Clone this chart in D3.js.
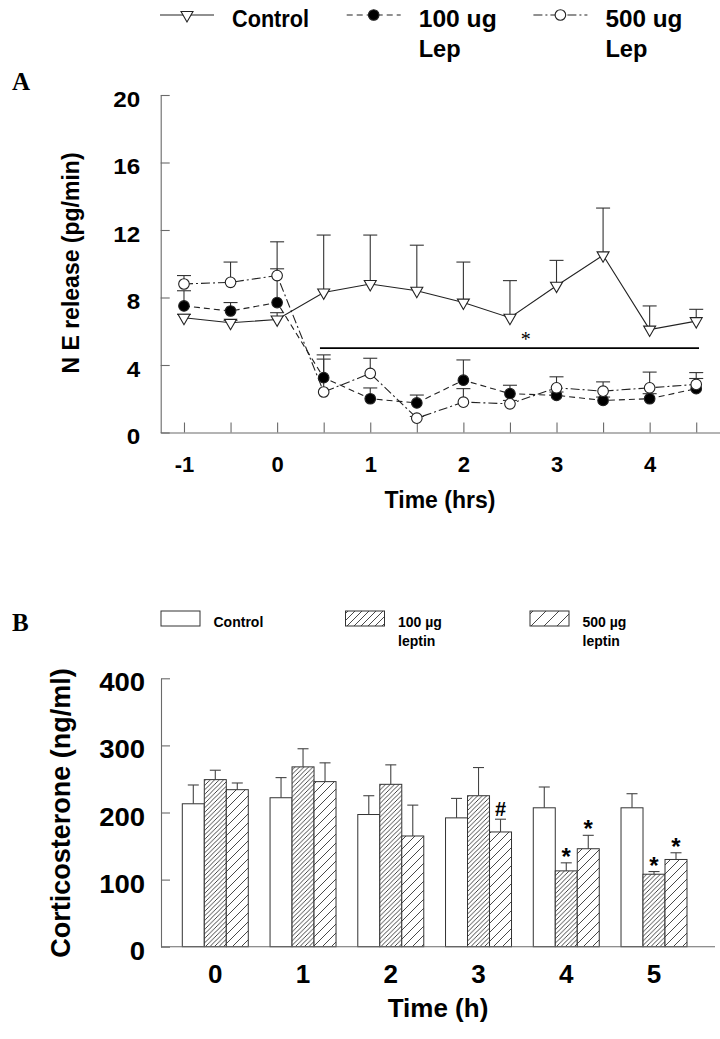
<!DOCTYPE html>
<html><head><meta charset="utf-8">
<script src="https://cdn.jsdelivr.net/npm/d3@7"></script>
<style>
html,body{margin:0;padding:0;background:#fff;}
svg{display:block;}
text{font-family:"Liberation Sans",Arial,sans-serif;font-weight:bold;fill:#000;}
</style></head>
<body>
<svg id="chart" width="720" height="1039"></svg>
<script>
// ---------- Panel A data ----------
const timesA = [-1, -0.5, 0, 0.5, 1, 1.5, 2, 2.5, 3, 3.5, 4, 4.5];
const controlA = [6.8, 6.5, 6.7, 8.3, 8.8, 8.4, 7.7, 6.8, 8.7, 10.5, 6.1, 6.6];
const controlASem = [0.2, 0.15, 0.4, 3.4, 2.9, 2.7, 2.4, 2.2, 1.5, 2.8, 1.4, 0.7];
const lep100A = [7.5, 7.2, 7.7, 3.25, 2.0, 1.75, 3.1, 2.3, 2.2, 1.9, 2.0, 2.6];
const lep100ASem = [0.9, 0.5, 3.6, 1.1, 0.64, 0.47, 1.2, 0.5, 0.2, 0.2, 0.3, 0.6];
const lep500A = [8.8, 8.9, 9.3, 2.4, 3.5, 0.85, 1.8, 1.7, 2.65, 2.45, 2.65, 2.85];
const lep500ASem = [0.5, 1.2, 0.4, 2.2, 0.9, 0.1, 0.8, 0.2, 0.65, 0.55, 0.93, 0.7];
const yTicksA = [0, 4, 8, 12, 16, 20];
const legendA = ["Control", "100 ug|Lep", "500 ug|Lep"];
const sigLineA = [0.46, 4.53, 5.0];   // x start, x end, y level
const sigStarA = [2.67, "*"];

// ---------- Panel B data ----------
const groupsB = ["0", "1", "2", "3", "4", "5"];
const controlB = [213, 222, 197, 192, 207, 207];
const controlBSem = [28, 30, 28, 29, 31, 21];
const lep100B = [249, 268, 242, 225, 113, 108];
const lep100BSem = [14, 27, 29, 42, 12, 4];
const lep500B = [234, 246, 165, 171, 146, 130];
const lep500BSem = [10, 28, 46, 19, 20, 10];
const yTicksB = [0, 100, 200, 300, 400];
const legendB = ["Control", "100 µg|leptin", "500 µg|leptin"];
const marksB = [
  {g: "3", s: 2, t: "#"},
  {g: "4", s: 1, t: "*"}, {g: "4", s: 2, t: "*"},
  {g: "5", s: 1, t: "*"}, {g: "5", s: 2, t: "*"}
];

const svg = d3.select("#chart");
const axisCol = "#6a6a6a";
const inkCol = "#222";
const sansFam = '"Liberation Sans",Arial,sans-serif';
const serifFam = '"Liberation Serif","Times New Roman",serif';
const yStretch = 1.1;

function styleAxis(a, size) {
  a.attr("font-family", null).attr("font-size", null);
  a.selectAll("path,line").attr("stroke", axisCol).attr("stroke-width", 1.1);
  a.selectAll("text").style("font-family", sansFam).style("font-weight", "bold")
    .style("font-size", size + "px").style("fill", "#000");
}

// =============== PANEL A ===============
const xA = d3.scaleLinear().domain([-1.25, 4.75]).range([160.7, 719.5]);
const yA = d3.scaleLinear().domain([0, 20]).range([432.5, 95]);

const gA = svg.append("g");
// axes
const yAxisA = d3.axisLeft(yA).tickValues(yTicksA).tickSizeInner(-9).tickSizeOuter(0).tickPadding(20.5 / yStretch);
const yaxA = gA.append("g").attr("transform", `translate(${xA.range()[0]},0)`).call(yAxisA);
styleAxis(yaxA, 22);
yaxA.selectAll("text").attr("dy", "0.5em").attr("transform", `scale(${yStretch},1)`);
const xAxisA = d3.axisBottom(xA).tickValues(timesA).tickSizeInner(-10).tickSizeOuter(0).tickPadding(24)
  .tickFormat(d => Number.isInteger(d) ? String(d) : "");
const xaxA = gA.append("g").attr("transform", `translate(0,${yA(0)})`).call(xAxisA);
styleAxis(xaxA, 22);

// titles
gA.append("text").attr("transform", "translate(78.5,263) rotate(-90)").attr("text-anchor", "middle")
  .attr("font-size", 23).text("N E release (pg/min)");
gA.append("text").attr("x", 440).attr("y", 508).attr("text-anchor", "middle")
  .attr("font-size", 23).text("Time (hrs)");
gA.append("text").attr("x", 12).attr("y", 90).attr("font-size", 25)
  .style("font-family", serifFam).text("A");

const seriesA = [
  {name: "control", vals: controlA, sem: controlASem, dash: null, marker: "tri"},
  {name: "l100", vals: lep100A, sem: lep100ASem, dash: "6,4", marker: "fill"},
  {name: "l500", vals: lep500A, sem: lep500ASem, dash: "9,3,2,3", marker: "open"}
];

// significance line + star
gA.append("line").attr("x1", xA(sigLineA[0])).attr("x2", xA(sigLineA[1]))
  .attr("y1", yA(sigLineA[2])).attr("y2", yA(sigLineA[2]))
  .attr("stroke", "#000").attr("stroke-width", 1.6);
gA.append("text").attr("x", xA(sigStarA[0])).attr("y", yA(sigLineA[2]) - 2).attr("text-anchor", "middle")
  .style("font-size", "20px").style("font-family", serifFam).style("font-weight", "normal")
  .style("fill", "#000").text(sigStarA[1]);

// error bars
seriesA.forEach(s => {
  const eg = gA.append("g").attr("stroke", "#333").attr("stroke-width", 1.1);
  timesA.forEach((t, i) => {
    const x = xA(t), y0 = yA(s.vals[i]), y1 = yA(s.vals[i] + s.sem[i]);
    eg.append("line").attr("x1", x).attr("x2", x).attr("y1", y0).attr("y2", y1);
    eg.append("line").attr("x1", x - 7).attr("x2", x + 7).attr("y1", y1).attr("y2", y1);
  });
});
// lines
const lineA = d3.line().x((d, i) => xA(timesA[i])).y(d => yA(d));
seriesA.forEach(s => {
  gA.append("path").datum(s.vals).attr("d", lineA).attr("fill", "none")
    .attr("stroke", inkCol).attr("stroke-width", 1.1).attr("stroke-dasharray", s.dash);
});
// markers
const triSym = d3.symbol().type(d3.symbolTriangle).size(62);
function drawMarker(g, type, x, y) {
  if (type === "tri") {
    g.append("path").attr("d", triSym()).attr("transform", `translate(${x},${y}) rotate(180)`)
      .attr("fill", "#fff").attr("stroke", inkCol).attr("stroke-width", 1.1);
  } else {
    g.append("circle").attr("cx", x).attr("cy", y).attr("r", 5.3)
      .attr("fill", type === "fill" ? "#000" : "#fff").attr("stroke", inkCol).attr("stroke-width", 1.1);
  }
}
seriesA.forEach(s => {
  timesA.forEach((t, i) => drawMarker(gA, s.marker, xA(t), yA(s.vals[i])));
});

// legend A
const legAx = d3.scaleLinear().domain([0, 1]).range([160, 346.7]);
const legTextW = [[77], [78, 42], [77, 42]];
legendA.forEach((lab, i) => {
  const x0 = legAx(i);
  const s = seriesA[i];
  gA.append("line").attr("x1", x0).attr("x2", x0 + 54).attr("y1", 15).attr("y2", 15)
    .attr("stroke", inkCol).attr("stroke-width", 1.1).attr("stroke-dasharray", s.dash);
  drawMarker(gA, s.marker, x0 + 27, 15);
  lab.split("|").forEach((ln, j) => {
    gA.append("text").attr("x", x0 + 72).attr("y", 27 + j * 30).attr("font-size", 24)
      .attr("textLength", legTextW[i][j]).attr("lengthAdjust", "spacingAndGlyphs").text(ln);
  });
});

// =============== PANEL B ===============
const yB = d3.scaleLinear().domain([0, 400]).range([946.7, 678.3]);
const xB = d3.scaleBand().domain(groupsB).range([182.3, 687]).paddingInner(0.248).paddingOuter(0);
const xSub = d3.scaleBand().domain([0, 1, 2]).range([0, xB.bandwidth()]);
const axisXB = [161, 715];

const defs = svg.append("defs");
function hatch(id, sp) {
  const p = defs.append("pattern").attr("id", id).attr("patternUnits", "userSpaceOnUse")
    .attr("width", sp).attr("height", sp);
  p.append("rect").attr("width", sp).attr("height", sp).attr("fill", "#fff");
  p.append("path").attr("d", `M${-sp},${sp} L${sp},${-sp} M0,${sp * 2} L${sp * 2},0 M0,${sp} L${sp},0`)
    .attr("stroke", "#333").attr("stroke-width", 0.9);
}
hatch("h100", 4.5);
hatch("h500", 9);
hatch("h100L", 7);
hatch("h500L", 13);
const fillsB = ["#fff", "url(#h100)", "url(#h500)"];
const fillsBL = ["#fff", "url(#h100L)", "url(#h500L)"];

const gB = svg.append("g");
const seriesB = [
  {vals: controlB, sem: controlBSem},
  {vals: lep100B, sem: lep100BSem},
  {vals: lep500B, sem: lep500BSem}
];
// bars
seriesB.forEach((s, k) => {
  gB.append("g").selectAll("rect").data(groupsB).join("rect")
    .attr("x", g => xB(g) + xSub(k)).attr("width", xSub.bandwidth())
    .attr("y", (g, i) => yB(s.vals[i])).attr("height", (g, i) => yB(0) - yB(s.vals[i]))
    .attr("fill", fillsB[k]).attr("stroke", "#333").attr("stroke-width", 1);
});
// error bars
seriesB.forEach((s, k) => {
  const eg = gB.append("g").attr("stroke", "#444").attr("stroke-width", 1.1);
  groupsB.forEach((g, i) => {
    const x = xB(g) + xSub(k) + xSub.bandwidth() / 2;
    const y0 = yB(s.vals[i]), y1 = yB(s.vals[i] + s.sem[i]);
    eg.append("line").attr("x1", x).attr("x2", x).attr("y1", y0).attr("y2", y1);
    eg.append("line").attr("x1", x - 5.5).attr("x2", x + 5.5).attr("y1", y1).attr("y2", y1);
  });
});
// significance marks
marksB.forEach(m => {
  const i = groupsB.indexOf(m.g);
  const s = seriesB[m.s];
  const x = xB(m.g) + xSub(m.s) + xSub.bandwidth() / 2;
  const top = yB(s.vals[i] + s.sem[i]);
  gB.append("text").attr("x", x).attr("text-anchor", "middle")
    .attr("y", m.t === "*" ? top + 2 : top - 3)
    .attr("font-size", m.t === "*" ? 24 : 20).text(m.t);
});

// axes B
const yAxisB = d3.axisLeft(yB).tickValues(yTicksB).tickSizeInner(-9).tickSizeOuter(0).tickPadding(16 / yStretch);
const yaxB = gB.append("g").attr("transform", `translate(${axisXB[0]},0)`).call(yAxisB);
styleAxis(yaxB, 25);
yaxB.selectAll("text").attr("dy", "0.5em").attr("transform", `scale(${yStretch},1)`);
const xAxisB = d3.axisBottom(xB).tickSize(0).tickPadding(18);
const xaxB = gB.append("g").attr("transform", `translate(0,${yB(0)})`).call(xAxisB);
xaxB.select(".domain").attr("d", `M${axisXB[0]},0H${axisXB[1]}`);
styleAxis(xaxB, 26);

// titles B
gB.append("text").attr("transform", "translate(69.5,813) rotate(-90)").attr("text-anchor", "middle")
  .attr("font-size", 27).text("Corticosterone (ng/ml)");
gB.append("text").attr("x", 438).attr("y", 1017).attr("text-anchor", "middle")
  .attr("font-size", 26).text("Time (h)");
gB.append("text").attr("x", 12).attr("y", 631).attr("font-size", 25)
  .style("font-family", serifFam).text("B");

// legend B
const legBx = d3.scaleLinear().domain([0, 1]).range([161, 345.5]);
legendB.forEach((lab, i) => {
  const x0 = legBx(i);
  gB.append("rect").attr("x", x0).attr("y", 611).attr("width", 39).attr("height", 15)
    .attr("fill", fillsBL[i]).attr("stroke", "#333").attr("stroke-width", 1);
  lab.split("|").forEach((ln, j) => {
    gB.append("text").attr("x", x0 + 52.5).attr("y", 627 + j * 18.5).attr("font-size", 14).text(ln);
  });
});
</script>
</body></html>
